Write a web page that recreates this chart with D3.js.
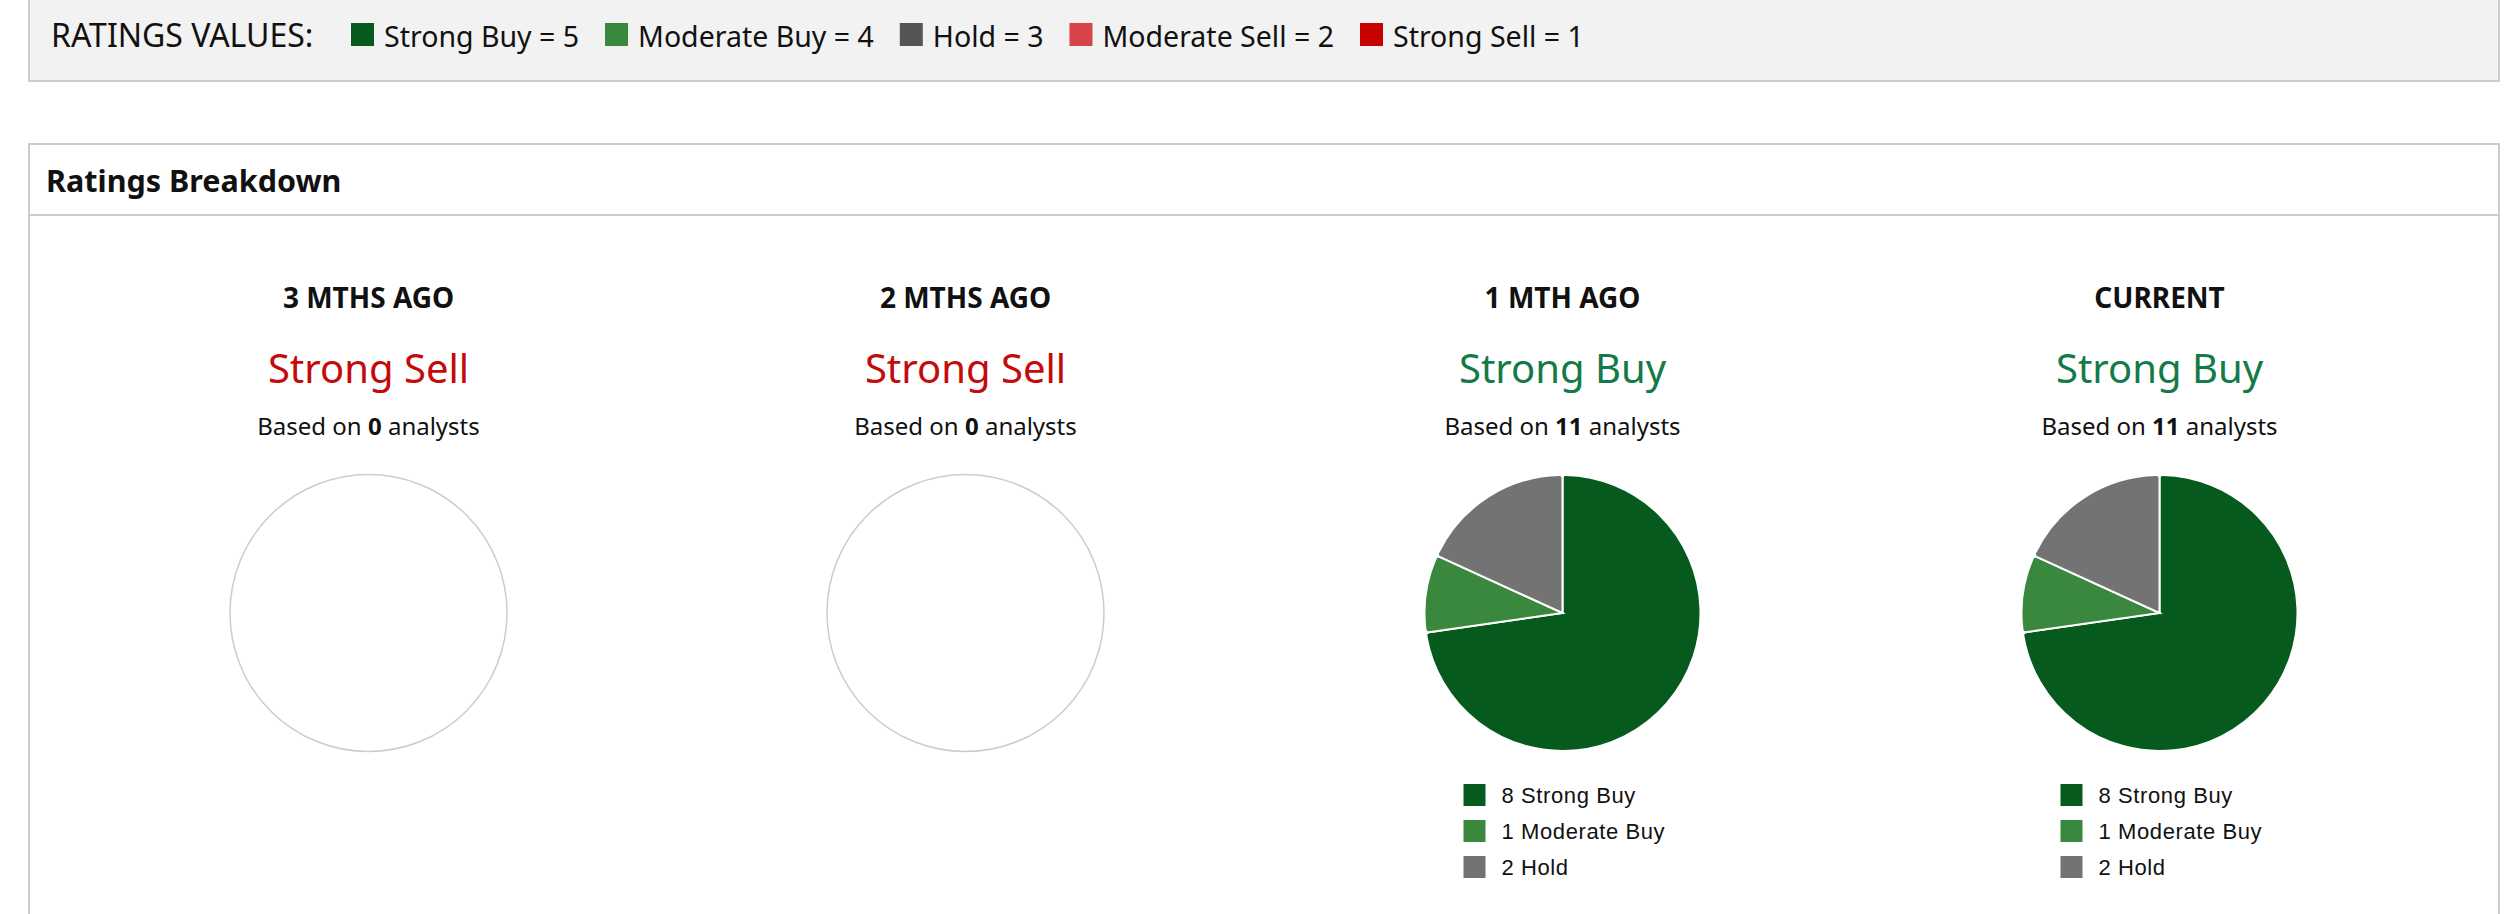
<!DOCTYPE html>
<html>
<head>
<meta charset="utf-8">
<script src="https://cdn.jsdelivr.net/npm/d3@7"></script>
<style>
  html, body { margin: 0; padding: 0; background: #fff; }
  svg { display: block; }
</style>
</head>
<body>
<div id="chart"></div>
<script>
// Rating scale shown in the top key
var ratingNames = ["Strong Buy", "Moderate Buy", "Hold", "Moderate Sell", "Strong Sell"];
var ratingValues = [5, 4, 3, 2, 1];
var keyColors = ["#065a1d", "#3a873e", "#555555", "#d8434a", "#c70000"];
var pieColors = ["#065a1d", "#3a873e", "#737373", "#d8434a", "#c70000"];

// One column per period
var periods = ["3 MTHS AGO", "2 MTHS AGO", "1 MTH AGO", "CURRENT"];
var consensus = ["Strong Sell", "Strong Sell", "Strong Buy", "Strong Buy"];
var analystCounts = [0, 0, 11, 11];

// Analyst counts per rating, per period
var strongBuy = [0, 0, 8, 8];
var moderateBuy = [0, 0, 1, 1];
var hold = [0, 0, 2, 2];
var moderateSell = [0, 0, 0, 0];
var strongSell = [0, 0, 0, 0];

var width = 2512, height = 914;
var font = "'Noto Sans', 'Open Sans', sans-serif";

var svg = d3.select("#chart").append("svg")
	.attr("width", width)
	.attr("height", height)
	.attr("viewBox", "0 0 " + width + " " + height);

// ---- top key box ----
svg.append("rect")
	.attr("x", 29).attr("y", -10)
	.attr("width", 2470).attr("height", 91)
	.attr("fill", "#f2f2f2")
	.attr("stroke", "#cccccc")
	.attr("stroke-width", 2);

svg.append("text")
	.attr("x", 51).attr("y", 47)
	.attr("font-family", font)
	.attr("font-size", 32)
	.attr("fill", "#111")
	.text("RATINGS VALUES:");

var keyX = 351;
ratingNames.forEach(function(name, i){
	svg.append("rect")
		.attr("x", keyX).attr("y", 23)
		.attr("width", 23).attr("height", 23)
		.attr("fill", keyColors[i]);
	var t = svg.append("text")
		.attr("x", keyX + 33).attr("y", 47)
		.attr("font-family", font)
		.attr("font-size", 28.5)
		.attr("fill", "#111")
		.text(name + " = " + ratingValues[i]);
	keyX = keyX + 33 + t.node().getComputedTextLength() + 26;
});

// ---- breakdown panel ----
svg.append("rect")
	.attr("x", 29).attr("y", 144)
	.attr("width", 2470).attr("height", 800)
	.attr("fill", "#fff")
	.attr("stroke", "#cccccc")
	.attr("stroke-width", 2);

svg.append("line")
	.attr("x1", 29).attr("x2", 2499)
	.attr("y1", 215).attr("y2", 215)
	.attr("stroke", "#cccccc")
	.attr("stroke-width", 2);

svg.append("text")
	.attr("x", 46).attr("y", 192)
	.attr("font-family", font)
	.attr("font-weight", "bold")
	.attr("font-size", 30.5)
	.attr("fill", "#111")
	.text("Ratings Breakdown");

var x = d3.scaleBand().domain(periods).range([70, 2458]);

var radius = 138;
var pieY = 613;

var pie = d3.pie().sort(null).value(function(d){ return d.count; });
var arc = d3.arc().innerRadius(0).outerRadius(radius).cornerRadius(3);

periods.forEach(function(p, i){
	var cx = x(p) + x.bandwidth() / 2;
	var col = svg.append("g").attr("transform", "translate(" + cx + ",0)");

	col.append("text")
		.attr("y", 308)
		.attr("text-anchor", "middle")
		.attr("font-family", font)
		.attr("font-weight", "bold")
		.attr("font-size", 28)
		.attr("fill", "#111")
		.text(p);

	var isSell = consensus[i].indexOf("Sell") >= 0;
	col.append("text")
		.attr("y", 383)
		.attr("text-anchor", "middle")
		.attr("font-family", font)
		.attr("font-size", 40)
		.attr("fill", isSell ? "#c40a0a" : "#147a47")
		.text(consensus[i]);

	var based = col.append("text")
		.attr("y", 435)
		.attr("text-anchor", "middle")
		.attr("font-family", font)
		.attr("font-size", 24)
		.attr("fill", "#111");
	based.append("tspan").text("Based on ");
	based.append("tspan").attr("font-weight", "bold").text(analystCounts[i]);
	based.append("tspan").text(" analysts");

	var counts = [strongBuy[i], moderateBuy[i], hold[i], moderateSell[i], strongSell[i]];
	var slices = ratingNames.map(function(n, j){
		return {name: n, count: counts[j], color: pieColors[j]};
	}).filter(function(d){ return d.count > 0; });

	var pg = col.append("g").attr("transform", "translate(0," + pieY + ")");

	if(slices.length === 0){
		pg.append("circle")
			.attr("r", radius + 0.5)
			.attr("fill", "none")
			.attr("stroke", "#cccccc")
			.attr("stroke-width", 1.5);
		return;
	}

	pg.selectAll("path")
		.data(pie(slices))
		.enter()
		.append("path")
		.attr("d", arc)
		.attr("fill", function(d){ return d.data.color; })
		.attr("stroke", "#fff")
		.attr("stroke-width", 2);

	// legend under the pie
	var leg = col.selectAll(".leg")
		.data(slices)
		.enter()
		.append("g")
		.attr("class", "leg")
		.attr("transform", function(d, j){ return "translate(-99," + (784 + j * 36) + ")"; });

	leg.append("rect")
		.attr("width", 22).attr("height", 22)
		.attr("fill", function(d){ return d.color; });

	leg.append("text")
		.attr("x", 38).attr("y", 19)
		.attr("font-family", "'Liberation Sans', Arial, sans-serif")
		.attr("font-size", 22)
		.attr("letter-spacing", 0.6)
		.attr("fill", "#111")
		.text(function(d){ return d.count + " " + d.name; });
});
</script>
</body>
</html>
